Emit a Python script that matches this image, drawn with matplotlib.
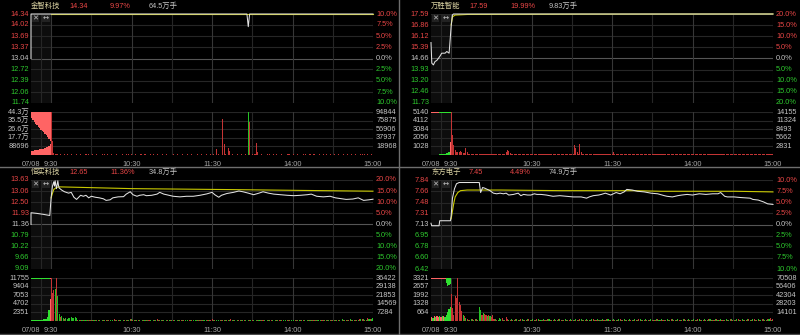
import matplotlib
matplotlib.use("Agg")
import matplotlib.pyplot as plt
from matplotlib.lines import Line2D
from matplotlib.patches import Rectangle

plt.rcParams['font.family'] = ['Liberation Sans', 'Noto Sans CJK SC', 'DejaVu Sans']

# ------------------------------------------------------------------ data
names = ['金智科技', '万胜智能', '恒实科技', '东方电子']
last_prices = ['14.34', '17.59', '12.65', '7.45']
change_pcts = ['9.97%', '19.99%', '11.36%', '4.49%']
total_vols = ['64.5万手', '9.83万手', '34.8万手', '74.9万手']

price_ticks = [
    [14.34, 14.02, 13.69, 13.37, 13.04, 12.72, 12.39, 12.06, 11.74],
    [17.59, 16.86, 16.12, 15.39, 14.66, 13.93, 13.20, 12.46, 11.73],
    [13.63, 13.06, 12.50, 11.93, 11.36, 10.79, 10.22, 9.66, 9.09],
    [7.84, 7.66, 7.48, 7.31, 7.13, 6.95, 6.78, 6.60, 6.42],
]
price_tick_labels = [
    ['14.34', '14.02', '13.69', '13.37', '13.04', '12.72', '12.39', '12.06', '11.74'],
    ['17.59', '16.86', '16.12', '15.39', '14.66', '13.93', '13.20', '12.46', '11.73'],
    ['13.63', '13.06', '12.50', '11.93', '11.36', '10.79', '10.22', '9.66', '9.09'],
    ['7.84', '7.66', '7.48', '7.31', '7.13', '6.95', '6.78', '6.60', '6.42'],
]
pct_labels = [
    ['10.0%', '7.5%', '5.0%', '2.5%', '0.0%', '2.5%', '5.0%', '7.5%', '10.0%'],
    ['20.0%', '15.0%', '10.0%', '5.0%', '0.0%', '5.0%', '10.0%', '15.0%', '20.0%'],
    ['20.0%', '15.0%', '10.0%', '5.0%', '0.0%', '5.0%', '10.0%', '15.0%', '20.0%'],
    ['10.0%', '7.5%', '5.0%', '2.5%', '0.0%', '2.5%', '5.0%', '7.5%', '10.0%'],
]
vol_max = [443480, 5140, 11755, 3321]
vol_left_labels = [
    ['88696', '17.7万', '26.6万', '35.5万', '44.3万'],
    ['1028', '2056', '3084', '4112', '5140'],
    ['2351', '4702', '7053', '9404', '11755'],
    ['664', '1328', '1992', '2657', '3321'],
]
vol_right_labels = [
    ['18968', '37937', '56906', '75875', '94844'],
    ['2831', '5662', '8493', '11324', '14155'],
    ['7284', '14569', '21853', '29138', '36422'],
    ['14101', '28203', '42304', '56406', '70508'],
]
time_labels = ['07/08', '9:30', '10:30', '11:30', '14:00', '15:00']
time_label_minutes = [-15, 0, 60, 120, 180, 240]

# price / average lines: minutes from 9:30 (auction = -15..0)
price_min_0 = [-15, -15, 146, 147, 148, 240]
price_0 = [13.04, 14.34, 14.34, 13.97, 14.34, 14.34]
avg_min_0 = [0, 240]
avg_0 = [14.335, 14.335]

price_min_1 = [-15, -14.4, -13.2, -12, -10.7, -9.4, -8.2, -7, -4.5, -3.2, -1.5, -0.7, 0, 1, 1.7, 240]
price_1 = [15.71, 14.35, 14.24, 14.46, 14.53, 14.68, 14.83, 15.01, 15.01, 15.12, 15.01, 15.93, 16.76, 17.53, 17.59, 17.59]
avg_min_1 = [0, 1, 3, 12, 96, 240]
avg_1 = [16.87, 17.40, 17.52, 17.56, 17.58, 17.59]

price_min_2 = [-15, -15, -11, -6, -1, 0, 1, 2, 2.5, 3, 4, 5, 5.5, 6, 8, 10, 13, 15, 17, 19, 22, 24,
               26, 28, 30, 33, 36, 39, 41, 44, 46, 50, 54, 56, 59, 61, 64, 66, 69, 71, 75, 79, 81,
               84, 86, 91, 96, 101, 106, 111, 116, 120, 122, 125, 127, 131, 136, 140, 143, 147,
               151, 155, 158, 162, 166, 171, 176, 181, 186, 191, 194, 198, 203, 208, 212, 215,
               220, 225, 229, 233, 237, 240]
price_2 = [11.36, 11.96, 11.93, 11.88, 11.82, 12.72, 13.32, 13.54, 13.32, 13.59, 13.19, 13.59,
           13.35, 13.22, 13.11, 13.03, 12.96, 13.00, 12.75, 12.64, 12.85, 12.80, 12.85, 12.72,
           12.80, 12.75, 12.72, 12.67, 12.59, 12.62, 12.72, 12.77, 12.78, 12.91, 13.03, 12.88,
           12.80, 12.85, 12.88, 12.83, 12.85, 12.91, 13.00, 12.91, 12.88, 12.80, 12.77, 12.80,
           12.80, 12.85, 12.92, 13.00, 12.88, 12.75, 12.85, 12.94, 13.00, 13.07, 13.03, 12.96,
           12.88, 12.96, 13.03, 12.96, 12.91, 12.88, 12.85, 12.83, 12.85, 12.88, 12.91, 12.80,
           12.77, 12.80, 12.72, 12.69, 12.64, 12.66, 12.72, 12.59, 12.62, 12.65]
avg_min_2 = [0, 1, 2, 4, 6, 60, 135, 185, 240]
avg_2 = [12.72, 12.95, 13.15, 13.25, 13.28, 13.19, 13.14, 13.10, 13.06]

price_min_3 = [-15, -14.5, -9, -8.5, -0.5, 0, 1, 2.5, 4, 6, 21, 22, 23.5, 25, 27, 29, 31.5, 34,
               36.5, 39, 41, 43, 46.5, 50, 52, 54, 57, 59.5, 62, 64, 67, 71, 76, 81, 86, 91, 97,
               101, 103, 106, 110, 112, 115, 119, 123, 126, 129, 130.5, 131, 135, 139, 144, 149,
               154, 159, 161, 165, 169, 172, 176, 180, 185, 190, 195, 199, 201, 204, 206, 211,
               216, 223, 225, 229, 233, 236, 240]
price_3 = [7.15, 7.11, 7.11, 7.19, 7.19, 7.26, 7.55, 7.70, 7.78, 7.80, 7.80, 7.64, 7.72, 7.71,
           7.69, 7.67, 7.63, 7.62, 7.63, 7.62, 7.63, 7.60, 7.61, 7.63, 7.59, 7.61, 7.60, 7.60,
           7.62, 7.61, 7.61, 7.60, 7.58, 7.59, 7.58, 7.57, 7.57, 7.55, 7.57, 7.59, 7.60, 7.61,
           7.63, 7.60, 7.64, 7.62, 7.65, 7.68, 7.69, 7.68, 7.66, 7.65, 7.63, 7.62, 7.59, 7.58,
           7.57, 7.59, 7.60, 7.61, 7.60, 7.62, 7.61, 7.62, 7.62, 7.64, 7.58, 7.57, 7.57, 7.56,
           7.55, 7.53, 7.52, 7.49, 7.46, 7.45]
avg_min_3 = [0, 2, 3, 5, 7, 12, 37, 82, 137, 157, 212, 240]
avg_3 = [7.22, 7.47, 7.57, 7.64, 7.67, 7.68, 7.68, 7.67, 7.67, 7.66, 7.66, 7.65]

# auction (9:15-9:29) volume, one value per minute from -15 to -1
auction_match = [
    [43000, 45000, 47000, 49000, 52000, 54000, 57000, 60000, 63000, 67000, 72000, 78000, 85000, 95000, 115000],
    [0, 0, 0, 0, 0, 40, 60, 80, 100, 120, 150, 200, 260, 350, 1500],
    [150, 180, 200, 220, 250, 280, 300, 330, 380, 420, 480, 600, 1200, 3000, 6000],
    [300, 250, 350, 300, 400, 300, 350, 300, 400, 350, 300, 500, 700, 900, 1100],
]
auction_match_colors = ['rrrrrrrrrrrrrrr', 'ggggggggggggggr', 'ggggggggggggggr', 'rgrgrrgrgrggggg']
auction_unmatch = [
    [63000, 80000, 100000, 120000, 135000, 150000, 160000, 185000, 200000, 210000, 225000, 240000, 255000, 275000, 300000],
    [80, 80, 80, 80, 80, 80, 80, 80, 80, 80, 80, 80, 80, 80, 80],
    [150, 150, 150, 150, 150, 150, 150, 150, 150, 150, 150, 150, 150, 150, 250],
    [60, 60, 60, 60, 60, 60, 60, 60, 60, 60, 60, 400, 600, 550, 450],
]
auction_unmatch_colors = ['rrrrrrrrrrrrrrr', 'rrrrrrggggggggg', 'ggggggggggggggr', 'rrrrrrrrrrrgggg']

# continuous-session volume: one char per minute (digit = red, letter = green, x unit)
vol_unit = [5000, 60, 130, 40]
vol_codes = [
    "001322121121211211121121112121" "121121112121211211121112112121"
    "211211121121112121121112112111" "121121112111211211121121112112"
    "121212112121211211121121121121" "212121121112121121211121112211"
    "121121112121121121112112121121" "1211211121121121121112112121121",
    "000000000000221212112121212111" "212112121211212121121211212112"
    "121121211212112121121121211212" "121111211212112121212112121121"
    "211212121121121212112121121211" "121121211212121121211211212112"
    "121211212121121121212112121121" "1211212121121121211212121121212",
    "00000000000000ghgfhf3c2b3cb2c2" "b2c3b2c1b2b3c2b1c5b2c2b1c2b3c4"
    "e2b3c2b1c2b3b2c1b2c4b2c3b1c2b2" "c2b1b2c3b2b1c2b2c1b2c3b2b1c2b2"
    "4b2c1b2c2b3c2b5c2b1c2b3b2c1b2c" "2b1c2b3c2b1c2b2c1b2c3b2b1c2b2c"
    "1b2c2b3c2b1c2b2c3b2c1b2c2b3c2b" "2c3b2c1d2c3b2e3c2b3c4d5e3c6d4ef",
    "0000000000003b2c4b3c2000000000" "3b4c2b3c5b2c3b2c1b3c2b4c2b1c3b"
    "2c1b3c2b2c1b4c2b1c2b3c1b2c2b1c" "2b1c2b3c1b2c2b1c3b2c1b2c2b4c1b"
    "2c1b2c3b2c1b2c2b1c2b3c2b1c2b2c" "1b2c3b2c1b2c2b3c1b2c2b1c3b2c2b"
    "1c2b3c2b1c2b4c2b1c3b2c2b1c2b3c" "2b1c3b2c2b1c3b2c4b2c1b3c2b3c5b4",
]
# larger individual bars: minute -> (volume, colour)
vol_spikes = [
    {0: (460000, 'r'), 1: (144000, 'r'), 2: (20000, 'r'), 123: (63000, 'r'), 128: (376000, 'r'),
     129: (110000, 'r'), 132: (70000, 'r'), 133: (40000, 'r'), 147: (460000, 'g'),
     148: (340000, 'r'), 153: (128000, 'r'), 154: (30000, 'r'), 157: (15000, 'r'),
     178: (15000, 'r'), 232: (15000, 'r')},
    {0: (5400, 'r'), 1: (2400, 'r'), 2: (1200, 'r'), 3: (600, 'r'), 4: (350, 'r'), 5: (300, 'r'),
     6: (350, 'r'), 7: (450, 'r'), 8: (300, 'r'), 9: (200, 'r'), 10: (250, 'r'), 11: (820, 'r'),
     12: (300, 'r'), 41: (350, 'r'), 42: (600, 'r'), 43: (450, 'r'), 44: (250, 'r'),
     92: (1150, 'r'), 93: (850, 'r'), 94: (300, 'r'), 96: (1300, 'r'), 97: (300, 'r'),
     121: (350, 'r')},
    {0: (12500, 'r'), 1: (7600, 'r'), 2: (8400, 'r'), 3: (8800, 'g'), 4: (12500, 'r'),
     5: (6800, 'g'), 6: (1800, 'g'), 7: (1000, 'r'), 8: (1300, 'g'), 9: (800, 'g'),
     10: (600, 'r'), 11: (900, 'g'), 12: (500, 'g'), 13: (700, 'g')},
    {0: (2100, 'r'), 1: (1000, 'r'), 2: (500, 'r'), 3: (1900, 'r'), 4: (1750, 'r'), 5: (3400, 'r'),
     6: (1500, 'r'), 7: (1250, 'r'), 8: (750, 'r'), 9: (500, 'g'), 10: (380, 'r'), 11: (250, 'g'),
     21: (1060, 'g'), 22: (880, 'g'), 23: (500, 'r'), 24: (630, 'g'), 25: (560, 'r'),
     26: (500, 'r'), 27: (380, 'g'), 28: (500, 'r'), 29: (380, 'g'), 30: (300, 'r'),
     31: (500, 'r'), 36: (250, 'g'), 41: (300, 'r')},
]

price_mins = [price_min_0, price_min_1, price_min_2, price_min_3]
prices = [price_0, price_1, price_2, price_3]
avg_mins = [avg_min_0, avg_min_1, avg_min_2, avg_min_3]
avgs = [avg_0, avg_1, avg_2, avg_3]

# ------------------------------------------------------------------ style
W, H = 800, 335
BG = '#000000'
RED = '#e84646'
GREEN = '#2ec82e'
GRAY_TXT = '#c4c4c4'
NAME_COL = '#dcd4a4'
GRID = '#262626'
GRID_HOUR = '#363636'
PREV_LINE = '#555555'
BAR_RED = '#c43434'
BAR_GREEN = '#25c025'
AUC_RED = '#ff6464'
AUC_GREEN = '#30e030'
FS = 5.3

fig = plt.figure(figsize=(W / 100, H / 100), dpi=100, facecolor=BG)


def ax_px(x0, y0, x1, y1):
    ax = fig.add_axes([x0 / W, 1 - y1 / H, (x1 - x0) / W, (y1 - y0) / H])
    ax.set_facecolor(BG)
    for s in ax.spines.values():
        s.set_visible(False)
    ax.set_xticks([])
    ax.set_yticks([])
    ax.set_xlim(-15, 240)
    return ax


def ftext(x, y, s, **kw):
    fig.text(x / W, 1 - y / H, s, fontsize=FS, va='center', **kw)


def fline(xs, ys, color, lw=1.0):
    fig.add_artist(Line2D([x / W for x in xs], [1 - y / H for y in ys],
                          transform=fig.transFigure, color=color, lw=lw))


vgrid = [(-7.5, GRID), (0, GRID_HOUR), (30, GRID), (60, GRID_HOUR), (90, GRID),
         (120, GRID_HOUR), (150, GRID), (180, GRID_HOUR), (210, GRID), (240, GRID_HOUR)]

offsets = [(0, 0), (400, 0), (0, 166), (400, 166)]

for p, (ox, oy) in enumerate(offsets):
    ticks = price_ticks[p]
    # ---------------- title
    ftext(ox + 31, oy + 6, names[p], color=NAME_COL, ha='left')
    ftext(ox + 69, oy + 6, last_prices[p], color=RED, ha='left')
    ftext(ox + 110, oy + 6, change_pcts[p], color=RED, ha='left')
    ftext(ox + 149, oy + 6, total_vols[p], color=GRAY_TXT, ha='left')

    # ---------------- price panel
    ax = ax_px(ox + 31, oy + 14, ox + 373, oy + 103)
    ax.set_ylim(ticks[-1], ticks[0])
    ax.axvspan(-15, 0, color='#0d0d0d', lw=0, zorder=0)
    for i, t in enumerate(ticks):
        ax.axhline(t, color=PREV_LINE if i == 4 else GRID, lw=0.8, zorder=1)
    for xm, c in vgrid:
        ax.axvline(xm, color=c, lw=0.8, zorder=1)
    ax.plot(avg_mins[p], avgs[p], color='#c8c800', lw=0.8, zorder=3, clip_on=False)
    ax.plot(price_mins[p], prices[p], color='#e2e2e2', lw=0.75, zorder=4, clip_on=False)
    ytr = ax.get_yaxis_transform()
    for i, t in enumerate(ticks):
        col = RED if i < 4 else (GRAY_TXT if i == 4 else GREEN)
        ax.text(-0.005, t, price_tick_labels[p][i], transform=ytr, ha='right', va='center',
                fontsize=FS, color=col)
        ax.text(1.009, t, pct_labels[p][i], transform=ytr, ha='left', va='center',
                fontsize=FS, color=col)
    # icons
    span = ticks[0] - ticks[-1]
    for (x0, x1, s) in [(-14.3, -8.8, '✕'), (-7.6, -0.9, '↔')]:
        ax.add_patch(Rectangle((x0, ticks[0] - span * 0.09), x1 - x0, span * 0.075,
                               facecolor='#222222', edgecolor='none', zorder=5))
        ax.text((x0 + x1) / 2, ticks[0] - span * 0.052, s, ha='center', va='center',
                fontsize=5.2, color='#c0c0c0', family=['DejaVu Sans'], zorder=6)

    # ---------------- volume panel
    vmax = vol_max[p]
    vax = ax_px(ox + 31, oy + 112, ox + 373, oy + 155)
    vax.set_ylim(0, vmax)
    vax.axvspan(-15, 0, color='#0d0d0d', lw=0, zorder=0)
    for k in range(1, 6):
        vax.axhline(vmax * k / 5, color=GRID, lw=0.8, zorder=1)
    for xm, c in vgrid:
        vax.axvline(xm, color=c, lw=0.8, zorder=1)
    # auction
    amins = list(range(-15, 0))
    am_cols = [AUC_RED if c == 'r' else AUC_GREEN for c in auction_match_colors[p]]
    au_cols = [AUC_RED if c == 'r' else AUC_GREEN for c in auction_unmatch_colors[p]]
    vax.bar(amins, auction_match[p], width=1.0, align='edge', color=am_cols, lw=0, zorder=2)
    vax.bar(amins, auction_unmatch[p], width=1.0, align='edge',
            bottom=[vmax - v for v in auction_unmatch[p]], color=au_cols, lw=0, zorder=2)
    # session bars
    code = vol_codes[p]
    spikes = vol_spikes[p]
    bm, bv, bc = [], [], []
    for m in sorted(set(range(len(code))) | set(spikes)):
        if m in spikes:
            v, c = spikes[m]
        else:
            ch = code[m]
            if ch.isdigit():
                v, c = int(ch) * vol_unit[p], 'r'
            else:
                v, c = (ord(ch) - 96) * vol_unit[p], 'g'
        if v > 0:
            bm.append(m)
            bv.append(v)
            bc.append(BAR_RED if c == 'r' else BAR_GREEN)
    vax.bar(bm, bv, width=0.8, color=bc, lw=0, zorder=3)
    vtr = vax.get_yaxis_transform()
    for k in range(5):
        vax.text(-0.005, vmax * (k + 1) / 5, vol_left_labels[p][k], transform=vtr, ha='right',
                 va='center', fontsize=FS, color=GRAY_TXT)
        vax.text(1.009, vmax * (k + 1) / 5, vol_right_labels[p][k], transform=vtr, ha='left',
                 va='center', fontsize=FS, color=GRAY_TXT)
    # time labels
    xtr = vax.get_xaxis_transform()
    for lab, m in zip(time_labels, time_label_minutes):
        vax.text(m, -0.14, lab, transform=xtr, ha='center', va='top', fontsize=FS, color='#a8a8a8')

# ---------------- separators
fline([0, 800], [166.5, 166.5], '#6e6e6e')
fline([0, 800], [333.5, 333.5], '#4a4a4a')
fline([398.5, 398.5], [0, 335], '#6e6e6e')

fig.savefig('out.png', dpi=100, facecolor=BG)
